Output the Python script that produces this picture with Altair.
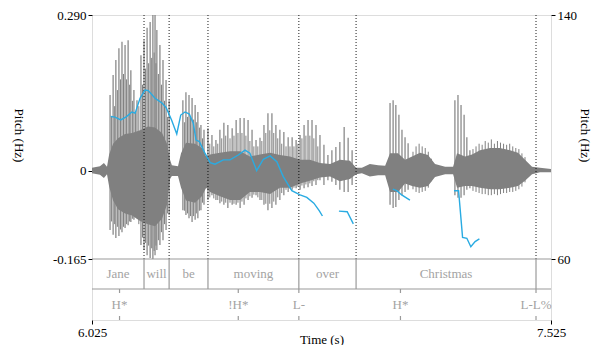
import altair as alt
import pandas as pd

# ---------------- data ----------------
# waveform: dense core envelope (seconds, amplitude)
env_t = [6.025, 6.051, 6.064, 6.074, 6.081, 6.094, 6.110, 6.133, 6.156, 6.182,
         6.208, 6.231, 6.254, 6.270, 6.280, 6.286, 6.306, 6.316, 6.332, 6.362,
         6.384, 6.398, 6.411, 6.443, 6.476, 6.509, 6.541, 6.574, 6.607, 6.639,
         6.672, 6.705, 6.737, 6.770, 6.803, 6.835, 6.868, 6.888, 6.907, 6.933,
         6.960, 6.983, 6.999, 7.025, 7.048, 7.071, 7.097, 7.123, 7.146, 7.179,
         7.205, 7.218, 7.244, 7.267, 7.293, 7.326, 7.358, 7.391, 7.417, 7.440,
         7.463, 7.489, 7.525]
env_hi = [0.005, 0.008, 0.014, 0.007, 0.030, 0.050, 0.060, 0.068, 0.070, 0.075,
          0.082, 0.080, 0.070, 0.050, 0.020, 0.010, 0.008, 0.032, 0.052, 0.050,
          0.042, 0.026, 0.030, 0.033, 0.036, 0.036, 0.026, 0.030, 0.033, 0.029,
          0.026, 0.020, 0.020, 0.014, 0.012, 0.020, 0.018, 0.005, 0.005, 0.012,
          0.010, 0.009, 0.032, 0.032, 0.020, 0.026, 0.033, 0.029, 0.012, 0.007,
          0.007, 0.032, 0.026, 0.030, 0.038, 0.042, 0.042, 0.038, 0.033, 0.020,
          0.007, 0.005, 0.003]
env_lo = [-0.005, -0.008, -0.014, -0.007, -0.030, -0.056, -0.072, -0.080, -0.084, -0.094,
          -0.100, -0.104, -0.090, -0.064, -0.016, -0.010, -0.010, -0.032, -0.056, -0.060,
          -0.048, -0.032, -0.040, -0.048, -0.055, -0.055, -0.040, -0.040, -0.044, -0.032,
          -0.032, -0.024, -0.019, -0.013, -0.011, -0.020, -0.016, -0.007, -0.005, -0.011,
          -0.009, -0.009, -0.040, -0.040, -0.024, -0.029, -0.032, -0.029, -0.012, -0.007,
          -0.007, -0.032, -0.029, -0.029, -0.032, -0.035, -0.035, -0.032, -0.029, -0.019,
          -0.007, -0.003, -0.003]

# waveform: main glottal-pulse spikes
spike_t = [6.084, 6.094, 6.103, 6.113, 6.123, 6.133, 6.143, 6.152, 6.162, 6.172,
           6.185, 6.195, 6.205, 6.215, 6.224, 6.231, 6.237, 6.247, 6.257, 6.267, 6.277,
           6.322, 6.332, 6.342, 6.352, 6.362, 6.371, 6.381, 6.391,
           6.404, 6.417, 6.430, 6.443, 6.456, 6.469, 6.483, 6.496, 6.509, 6.522,
           6.535, 6.548, 6.561, 6.574, 6.587, 6.600, 6.613, 6.626, 6.639, 6.652,
           6.666, 6.679, 6.692, 6.705, 6.718, 6.731, 6.744, 6.757, 6.770,
           6.783, 6.796, 6.809, 6.822, 6.835, 6.849, 6.862, 6.875,
           6.999, 7.009, 7.018, 7.028, 7.038, 7.048, 7.058,
           7.211, 7.221, 7.231, 7.241, 7.250, 7.260]
spike_hi = [0.141, 0.178, 0.206, 0.228, 0.240, 0.234, 0.243, 0.187, 0.150, 0.131,
            0.215, 0.243, 0.266, 0.277, 0.290, 0.290, 0.262, 0.234, 0.206, 0.169, 0.131,
            0.131, 0.146, 0.141, 0.135, 0.122, 0.109, 0.085, 0.076,
            0.079, 0.066, 0.057, 0.076, 0.089, 0.085, 0.079, 0.094, 0.098, 0.098,
            0.094, 0.076, 0.057, 0.061, 0.085, 0.107, 0.107, 0.085, 0.076, 0.072,
            0.062, 0.062, 0.057, 0.066, 0.085, 0.094, 0.094, 0.085, 0.066,
            0.048, 0.029, 0.038, 0.044, 0.053, 0.081, 0.061, 0.038,
            0.126, 0.131, 0.122, 0.104, 0.076, 0.062, 0.051,
            0.131, 0.141, 0.122, 0.104, 0.062, 0.038]
spike_lo = [-0.111, -0.120, -0.126, -0.122, -0.115, -0.107, -0.102, -0.096, -0.092, -0.089,
            -0.139, -0.148, -0.158, -0.163, -0.165, -0.158, -0.148, -0.139, -0.130, -0.111, -0.083,
            -0.074, -0.083, -0.089, -0.096, -0.092, -0.089, -0.074, -0.064,
            -0.055, -0.046, -0.055, -0.061, -0.064, -0.070, -0.064, -0.064, -0.070, -0.064,
            -0.055, -0.051, -0.046, -0.055, -0.064, -0.074, -0.070, -0.064, -0.055, -0.046,
            -0.040, -0.036, -0.033, -0.036, -0.033, -0.031, -0.029, -0.027, -0.018,
            -0.027, -0.018, -0.021, -0.027, -0.036, -0.040, -0.040, -0.027,
            -0.064, -0.070, -0.068, -0.055, -0.046, -0.040, -0.036,
            -0.046, -0.051, -0.051, -0.046, -0.036, -0.033]

# waveform: secondary oscillation peaks between the main pulses
osc_t = [6.089, 6.099, 6.108, 6.118, 6.128, 6.138, 6.148, 6.157, 6.167, 6.178,
         6.190, 6.200, 6.210, 6.220, 6.228, 6.234, 6.242, 6.252, 6.262, 6.272,
         6.327, 6.337, 6.347, 6.357, 6.366, 6.376, 6.386,
         6.410, 6.423, 6.436, 6.449, 6.462, 6.476, 6.489, 6.502, 6.515, 6.528,
         6.541, 6.554, 6.567, 6.580, 6.593, 6.606, 6.619, 6.632, 6.645, 6.659,
         6.672, 6.685, 6.698, 6.711, 6.724, 6.737, 6.750, 6.763,
         7.074, 7.084, 7.094, 7.104, 7.114, 7.124, 7.134,
         7.270, 7.280, 7.290, 7.300, 7.310, 7.320, 7.330, 7.340, 7.350, 7.360,
         7.370, 7.380, 7.390, 7.400, 7.410, 7.420, 7.430, 7.440]
osc_hi = [0.100, 0.120, 0.150, 0.170, 0.180, 0.170, 0.160, 0.130, 0.110, 0.120,
          0.160, 0.190, 0.200, 0.210, 0.220, 0.200, 0.180, 0.160, 0.130, 0.100,
          0.090, 0.100, 0.100, 0.095, 0.090, 0.080, 0.060,
          0.050, 0.045, 0.050, 0.060, 0.065, 0.060, 0.065, 0.070, 0.070, 0.065,
          0.055, 0.045, 0.045, 0.055, 0.070, 0.075, 0.070, 0.060, 0.050, 0.045,
          0.045, 0.045, 0.050, 0.060, 0.065, 0.065, 0.060, 0.045,
          0.035, 0.045, 0.050, 0.045, 0.042, 0.035, 0.022,
          0.040, 0.045, 0.050, 0.048, 0.055, 0.052, 0.058, 0.050, 0.055, 0.052,
          0.050, 0.048, 0.050, 0.045, 0.042, 0.040, 0.032, 0.025]
osc_lo = [-0.095, -0.100, -0.105, -0.110, -0.105, -0.100, -0.095, -0.090, -0.085, -0.100,
          -0.125, -0.135, -0.140, -0.145, -0.150, -0.140, -0.130, -0.115, -0.100, -0.080,
          -0.075, -0.080, -0.085, -0.085, -0.080, -0.075, -0.060,
          -0.050, -0.052, -0.055, -0.058, -0.060, -0.060, -0.062, -0.060, -0.058, -0.052,
          -0.048, -0.045, -0.050, -0.055, -0.062, -0.062, -0.058, -0.050, -0.042, -0.036,
          -0.034, -0.032, -0.030, -0.028, -0.026, -0.024, -0.020, -0.018,
          -0.035, -0.040, -0.042, -0.040, -0.038, -0.032, -0.020,
          -0.038, -0.040, -0.042, -0.044, -0.044, -0.046, -0.046, -0.044, -0.046, -0.044,
          -0.042, -0.042, -0.040, -0.040, -0.038, -0.035, -0.030, -0.022]

# pitch contour (Hz), four voiced stretches
pitch_t = [6.086, 6.100, 6.119, 6.138, 6.155, 6.166, 6.182, 6.198, 6.209, 6.231,
           6.253, 6.267, 6.285, 6.302, 6.315, 6.329, 6.343, 6.356, 6.365, 6.376,
           6.394, 6.411, 6.427, 6.454, 6.476, 6.503, 6.525, 6.541, 6.563, 6.585,
           6.607, 6.629, 6.650, 6.678, 6.705, 6.727, 6.750, 6.768, 6.778,
           6.832, 6.859, 6.879,
           7.008, 7.021, 7.037, 7.064,
           7.208, 7.223, 7.236, 7.250, 7.263, 7.277, 7.291]
pitch_hz = [106.7, 106.5, 105.6, 106.7, 108.2, 107.8, 112.7, 115.4, 115.2, 112.7,
            111.2, 109.7, 105.6, 101.0, 107.2, 108.2, 107.5, 104.5, 99.0, 98.5,
            94.7, 91.6, 91.1, 92.5, 92.5, 94.1, 95.7, 94.7, 89.0, 92.7,
            93.8, 91.9, 87.0, 82.4, 81.0, 80.2, 78.3, 75.8, 74.1,
            75.7, 75.5, 71.5,
            82.9, 82.4, 81.0, 79.3,
            82.4, 82.4, 67.1, 66.8, 64.0, 65.7, 66.6]
pitch_seg = [1] * 39 + [2] * 3 + [3] * 4 + [4] * 7

# word tier (intervals)
words = ["Jane", "will", "be", "moving", "over", "Christmas"]
word_start = [6.025, 6.195, 6.277, 6.404, 6.701, 6.888]
word_end = [6.195, 6.277, 6.404, 6.701, 6.888, 7.476]

# tone tier (points)
tones = ["H*", "!H*", "L-", "H*", "L-L%"]
tone_t = [6.115, 6.503, 6.701, 7.033, 7.476]

time_ticks = [6.025, 7.525]
wave_ticks = [-0.165, 0, 0.290]
pitch_ticks = [60, 140]

# ---------------- layout ----------------
W, H = 459, 305
WAVE_H = 244
T1_TOP, T1_BOT = 244, 274
T2_BOT = 305
FONT = "Liberation Serif, Times New Roman, Times, serif"
GRAY = "#808080"
TIER_GRAY = "#9a9a9a"
TEXT_GRAY = "#a3a3a3"
PITCH_COLOR = "#29abe2"

wave_df = pd.DataFrame({"t": env_t, "hi": env_hi, "lo": env_lo})
spike_df = pd.DataFrame({"t": spike_t, "hi": spike_hi, "lo": spike_lo})
osc_df = pd.DataFrame({"t": osc_t, "hi": osc_hi, "lo": osc_lo})
pitch_df = pd.DataFrame({"t": pitch_t, "hz": pitch_hz, "seg": pitch_seg})
word_df = pd.DataFrame({"w": words, "s": word_start, "e": word_end})
bound_df = pd.DataFrame({"t": word_end})
tone_df = pd.DataFrame({"t": tone_t, "lab": tones})
one_df = pd.DataFrame({"a": [0]})

xscale = alt.Scale(domain=[6.025, 7.525], nice=False, zero=False)
wscale = alt.Scale(domain=[-0.165, 0.290], range=[WAVE_H, 0], nice=False, zero=False)
pscale = alt.Scale(domain=[60, 140], range=[WAVE_H, 0], nice=False, zero=False)

x_axis = alt.Axis(values=time_ticks, labelExpr="format(datum.value, '.3f')",
                  title="Time (s)", tickSize=4, tickColor="#000", tickWidth=1,
                  labelColor="#000", labelFontSize=13, labelPadding=2,
                  labelFlush=False, labelOverlap=False, domain=False, grid=False,
                  titleFontSize=13, titleFontWeight="normal", titleColor="#000",
                  titleBaseline="alphabetic", titleY=23)

wave_axis = alt.Axis(values=wave_ticks,
                     labelExpr="datum.value == 0 ? '0' : replace(format(datum.value, '.3f'), '\u2212', '-')",
                     tickSize=4, tickColor="#000", tickWidth=1, labelColor="#000",
                     labelFontSize=13, labelPadding=2, labelFlush=False,
                     labelOverlap=False, domain=False, grid=False,
                     title="Pitch (Hz)", titleAngle=90, titleX=-73.5, titleY=120,
                     titleAlign="center", titleBaseline="middle", titleFontSize=13,
                     titleFontWeight="normal", titleColor="#000")

pitch_axis = alt.Axis(values=pitch_ticks, orient="right", tickSize=4, tickColor="#000",
                      tickWidth=1, labelColor="#000", labelFontSize=13, labelPadding=2,
                      labelFlush=False, labelOverlap=False, domain=False, grid=False,
                      title="Pitch (Hz)", titleAngle=90, titleX=33, titleY=120,
                      titleAlign="center", titleBaseline="middle", titleFontSize=13,
                      titleFontWeight="normal", titleColor="#000")

X = alt.X("t:Q", scale=xscale, axis=x_axis)

core = alt.Chart(wave_df).mark_area(color=GRAY, opacity=1).encode(
    x=X,
    y=alt.Y("hi:Q", scale=wscale, axis=wave_axis),
    y2="lo:Q",
)

spikes = alt.Chart(spike_df).mark_rule(color=GRAY, strokeWidth=1.2).encode(
    x=X,
    y=alt.Y("hi:Q", scale=wscale, axis=None),
    y2="lo:Q",
)

osc = alt.Chart(osc_df).mark_rule(color=GRAY, strokeWidth=1.0).encode(
    x=X,
    y=alt.Y("hi:Q", scale=wscale, axis=None),
    y2="lo:Q",
)

dotted = alt.Chart(bound_df).mark_rule(color="#000", strokeWidth=0.9, strokeDash=[1, 2]).encode(
    x=X, y=alt.value(0), y2=alt.value(WAVE_H)
)

tier_line1 = alt.Chart(one_df).mark_rule(color=TIER_GRAY, strokeWidth=1.2).encode(
    x=alt.value(0), x2=alt.value(W), y=alt.value(T1_TOP)
)
tier_line2 = alt.Chart(one_df).mark_rule(color=TIER_GRAY, strokeWidth=1.2).encode(
    x=alt.value(0), x2=alt.value(W), y=alt.value(T1_BOT)
)

word_bounds = alt.Chart(bound_df).mark_rule(color=TIER_GRAY, strokeWidth=1.2).encode(
    x=X, y=alt.value(T1_TOP), y2=alt.value(T1_BOT)
)

word_text = alt.Chart(word_df).transform_calculate(t="(datum.s + datum.e) / 2").mark_text(
    font=FONT, fontSize=13, color=TEXT_GRAY, baseline="middle", align="center"
).encode(x=X, y=alt.value((T1_TOP + T1_BOT) / 2), text="w:N")

tone_tick_top = alt.Chart(tone_df).mark_rule(color=TIER_GRAY, strokeWidth=1.2).encode(
    x=X, y=alt.value(T1_BOT), y2=alt.value(T1_BOT + 4)
)
tone_tick_bot = alt.Chart(tone_df).mark_rule(color=TIER_GRAY, strokeWidth=1.2).encode(
    x=X, y=alt.value(T2_BOT - 4), y2=alt.value(T2_BOT)
)
tone_text = alt.Chart(tone_df).mark_text(
    font=FONT, fontSize=13, color=TEXT_GRAY, baseline="middle", align="center"
).encode(x=X, y=alt.value((T1_BOT + T2_BOT) / 2), text="lab:N")

pitch = alt.Chart(pitch_df).mark_line(color=PITCH_COLOR, strokeWidth=1.4).encode(
    x=X,
    y=alt.Y("hz:Q", scale=pscale, axis=pitch_axis),
    detail="seg:N",
)

chart = alt.layer(
    core, spikes, osc, dotted, tier_line1, tier_line2, word_bounds, word_text,
    tone_tick_top, tone_tick_bot, tone_text, pitch
).resolve_scale(y="independent").properties(
    width=W, height=H,
    autosize=alt.AutoSizeParams(type="none"),
    padding={"left": 84, "top": 7, "right": 41, "bottom": 25},
).configure_view(
    stroke="#7a7a7a", strokeWidth=1.6
).configure_axis(
    labelFont=FONT, titleFont=FONT
).configure(
    font=FONT, background="white"
)

chart.save("out.html", embed_options={"renderer": "svg", "actions": False})
